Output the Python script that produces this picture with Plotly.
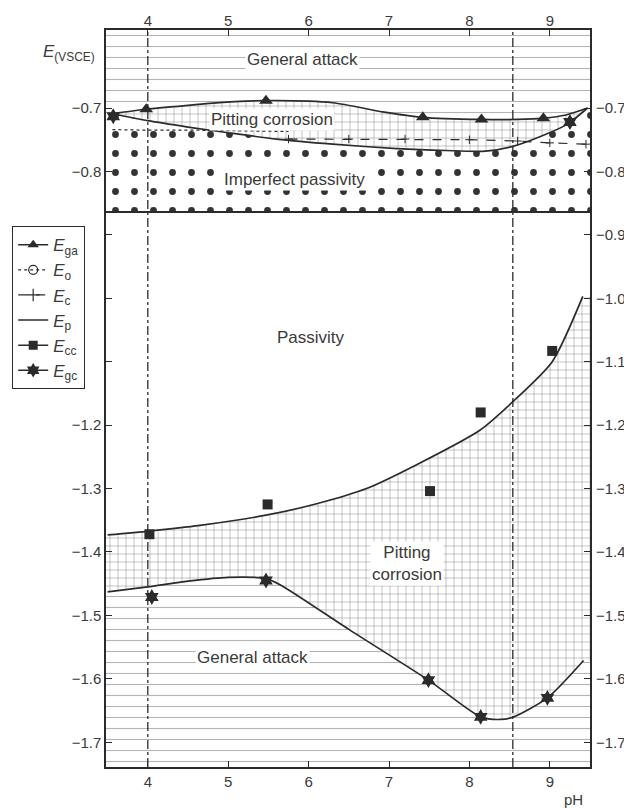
import plotly.graph_objects as go

# ---------------- data ----------------
PH_RANGE = [3.48, 9.50]
E_RANGE = [-1.739, -0.577]
SEPARATOR_E = -0.864
VLINE_PH = [4.0, 8.54]

ph_ticks = [4, 5, 6, 7, 8, 9]
e_ticks = [-0.7, -0.8, -0.9, -1.0, -1.1, -1.2, -1.3, -1.4, -1.5, -1.6, -1.7]
e_ticktext_right = ["−0.7", "−0.8", "−0.9", "−1.0", "−1.1", "−1.2", "−1.3", "−1.4", "−1.5", "−1.6", "−1.7"]
e_ticktext_left = ["−0.7", "−0.8", " ", " ", " ", "−1.2", "−1.3", "−1.4", "−1.5", "−1.6", "−1.7"]

# E_ga : general attack boundary (top panel)
ega_curve_ph = [3.56, 3.98, 4.4, 4.77, 5.47, 6.3, 6.92, 7.42, 8.15, 8.6, 8.92, 9.2, 9.47]
ega_curve_e = [-0.709, -0.702, -0.697, -0.6926, -0.6885, -0.6917, -0.706, -0.7147, -0.718, -0.718, -0.716, -0.711, -0.700]
ega_pts_ph = [3.98, 5.47, 7.42, 8.15, 8.92]
ega_pts_e = [-0.702, -0.6885, -0.7147, -0.718, -0.716]

# E_p : pitting boundary (top panel)
ep_ph = [3.56, 4.0, 4.5, 5.0, 5.6, 6.3, 7.1, 7.7, 8.2, 8.55, 8.9, 9.2, 9.47]
ep_e = [-0.709, -0.720, -0.730, -0.739, -0.749, -0.757, -0.764, -0.767, -0.768, -0.760, -0.744, -0.727, -0.700]

# E_o : dotted line
eo_ph = [3.56, 4.0, 4.6, 5.2, 5.75]
eo_e = [-0.734, -0.735, -0.735, -0.736, -0.737]

# E_c : dashed line with crosses
ec_ph = [5.75, 6.5, 7.2, 8.0, 8.6, 9.0, 9.45]
ec_e = [-0.749, -0.749, -0.749, -0.750, -0.752, -0.755, -0.757]

# E_cc : passivity / pitting boundary (bottom panel)
ecc_curve_ph = [3.50, 4.02, 4.65, 5.47, 6.1, 6.72, 7.38, 8.13, 8.54, 9.03, 9.41]
ecc_curve_e = [-1.373, -1.367, -1.358, -1.342, -1.324, -1.300, -1.260, -1.208, -1.163, -1.100, -0.997]
ecc_pts_ph = [4.02, 5.49, 7.51, 8.14, 9.03]
ecc_pts_e = [-1.372, -1.325, -1.304, -1.180, -1.083]

# E_gc : pitting / general attack boundary (bottom panel)
egc_curve_ph = [3.50, 4.0, 4.5, 5.0, 5.47, 5.65, 6.5, 7.49, 8.14, 8.39, 8.55, 8.97, 9.42]
egc_curve_e = [-1.463, -1.455, -1.446, -1.440, -1.442, -1.452, -1.522, -1.602, -1.660, -1.664, -1.660, -1.630, -1.571]
egc_pts_ph = [3.57, 9.25, 4.05, 5.47, 7.49, 8.14, 8.97]
egc_pts_e = [-0.713, -0.722, -1.471, -1.445, -1.602, -1.660, -1.630]

# region labels
region_labels = ["General attack", "Pitting corrosion", "Imperfect passivity", "Passivity",
                 "Pitting<br>corrosion", "General attack"]
region_ph = [5.92, 5.54, 5.83, 6.03, 7.22, 5.30]
region_e = [-0.624, -0.718, -0.812, -1.062, -1.418, -1.566]

# ---------------- styling ----------------
DARK = "#2b2b2b"
TXT = "#3a3a3a"
FONT = "Liberation Sans, Arial, sans-serif"
X0, X1 = PH_RANGE
Y0, Y1 = E_RANGE

dash_pat = dict(shape="-", fgcolor="#b4b4b4", bgcolor="white", size=11, solidity=0.1, fillmode="replace")
plus_pat = dict(shape="+", fgcolor="#6e6e6e", bgcolor="white", size=8, solidity=0.1, fillmode="replace")
star_pat = dict(shape=".", fgcolor="#333333", bgcolor="white", size=19, solidity=0.1, fillmode="replace")

fig = go.Figure()


def region(xs, ys, pat):
    fig.add_trace(go.Scatter(x=xs, y=ys, mode="lines", fill="toself", fillcolor="white",
                             fillpattern=pat, line=dict(width=0), hoverinfo="skip",
                             showlegend=False))


# top: general attack
region([X0] + ega_curve_ph + [X1, X1, X0],
       [ega_curve_e[0]] + ega_curve_e + [ega_curve_e[-1], Y1, Y1], dash_pat)
# top: pitting corrosion
region([X0] + ega_curve_ph + [X1, X1] + ep_ph[::-1] + [X0],
       [ega_curve_e[0]] + ega_curve_e + [ega_curve_e[-1], ep_e[-1]] + ep_e[::-1] + [ep_e[0]], plus_pat)
# top: imperfect passivity
region([X0] + ep_ph + [X1, X1, X0],
       [ep_e[0]] + ep_e + [ep_e[-1], SEPARATOR_E, SEPARATOR_E], star_pat)
# bottom: pitting corrosion
region([X0] + ecc_curve_ph + [X1, X1] + egc_curve_ph[::-1] + [X0],
       [ecc_curve_e[0]] + ecc_curve_e + [ecc_curve_e[-1], egc_curve_e[-1]] + egc_curve_e[::-1] + [egc_curve_e[0]],
       plus_pat)
# bottom: general attack
region([X0] + egc_curve_ph + [X1, X1, X0],
       [egc_curve_e[0]] + egc_curve_e + [egc_curve_e[-1], Y0, Y0], dash_pat)

line_main = dict(color=DARK, width=1.7, shape="spline", smoothing=0.7)

for xs, ys in [(ega_curve_ph, ega_curve_e), (ep_ph, ep_e),
               (ecc_curve_ph, ecc_curve_e), (egc_curve_ph, egc_curve_e)]:
    fig.add_trace(go.Scatter(x=xs, y=ys, mode="lines", line=line_main,
                             hoverinfo="skip", showlegend=False))

fig.add_trace(go.Scatter(x=eo_ph, y=eo_e, mode="lines",
                         line=dict(color=DARK, width=1.2, dash="dot"), showlegend=False))
fig.add_trace(go.Scatter(x=ec_ph, y=ec_e, mode="lines+markers",
                         line=dict(color=DARK, width=1.2, dash="dash"),
                         marker=dict(symbol="cross-thin", size=6, line=dict(color=DARK, width=1)),
                         showlegend=False))

fig.add_trace(go.Scatter(x=ega_pts_ph, y=ega_pts_e, mode="markers",
                         marker=dict(symbol="triangle-up", size=12, color=DARK), showlegend=False))
fig.add_trace(go.Scatter(x=ecc_pts_ph, y=ecc_pts_e, mode="markers",
                         marker=dict(symbol="square", size=10, color=DARK), showlegend=False))
fig.add_trace(go.Scatter(x=egc_pts_ph, y=egc_pts_e, mode="markers",
                         marker=dict(symbol="hexagram", size=12, color=DARK), showlegend=False))

# anchor trace so the top / right axes are drawn
fig.add_trace(go.Scatter(x=[None], y=[None], xaxis="x2", yaxis="y2", mode="markers",
                         showlegend=False, hoverinfo="skip"))

# legend entries
legend_items = [
    ("<i>E</i><sub>ga</sub>", dict(color=DARK, width=1.5), dict(symbol="triangle-up", size=10, color=DARK), "lines+markers"),
    ("<i>E</i><sub>o</sub>", dict(color=DARK, width=1.2, dash="dot"),
     dict(symbol="circle-open", size=9, color=DARK, line=dict(width=1.2, color=DARK)), "lines+markers"),
    ("<i>E</i><sub>c</sub>", dict(color=DARK, width=1.2, dash="dash"),
     dict(symbol="cross-thin", size=9, line=dict(width=1.2, color=DARK)), "lines+markers"),
    ("<i>E</i><sub>p</sub>", dict(color=DARK, width=1.5), None, "lines"),
    ("<i>E</i><sub>cc</sub>", dict(color=DARK, width=1.5), dict(symbol="square", size=9, color=DARK), "lines+markers"),
    ("<i>E</i><sub>gc</sub>", dict(color=DARK, width=1.5), dict(symbol="hexagram", size=11, color=DARK), "lines+markers"),
]
for name, ln, mk, mode in legend_items:
    kw = dict(x=[None], y=[None], mode=mode, name=name, line=ln, showlegend=True)
    if mk is not None:
        kw["marker"] = mk
    fig.add_trace(go.Scatter(**kw))

for xv in VLINE_PH:
    fig.add_vline(x=xv, line=dict(color=DARK, width=1.3, dash="dashdot"))
fig.add_hline(y=SEPARATOR_E, line=dict(color=DARK, width=2))

for txt, xv, yv in zip(region_labels, region_ph, region_e):
    fig.add_annotation(x=xv, y=yv, text=txt, showarrow=False, bgcolor="white",
                       borderpad=1, font=dict(family=FONT, size=17, color=TXT))

fig.add_annotation(xref="paper", yref="paper", x=-0.018, y=0.969, xanchor="right", yanchor="middle",
                   text="<i>E</i><sub>(VSCE)</sub>", showarrow=False,
                   font=dict(family=FONT, size=17, color=TXT))
fig.add_annotation(xref="paper", yref="paper", x=0.965, y=-0.044, xanchor="center", yanchor="middle",
                   text="pH", showarrow=False, font=dict(family=FONT, size=15, color=TXT))

tickfont = dict(family=FONT, size=15, color=TXT)
axis_common = dict(showgrid=False, zeroline=False, ticks="inside", ticklen=6,
                   tickcolor=DARK, tickwidth=1.2, tickfont=tickfont, automargin=False)

# page body adds an 8 px offset, so the figure is 8 px smaller than the window
fig.update_layout(
    width=624, height=800,
    margin=dict(l=98, r=42, t=22, b=41, autoexpand=False),
    paper_bgcolor="white", plot_bgcolor="white",
    font=dict(family=FONT, color=TXT),
    xaxis=dict(range=PH_RANGE, tickmode="array", tickvals=ph_ticks, showline=True, linecolor=DARK,
               linewidth=1.5, mirror=True, **axis_common),
    xaxis2=dict(range=PH_RANGE, tickmode="array", tickvals=ph_ticks, overlaying="x", side="top",
                anchor="y", showline=False, **axis_common),
    yaxis=dict(range=E_RANGE, tickmode="array", tickvals=e_ticks, ticktext=e_ticktext_left,
               showline=True, linecolor=DARK, linewidth=1.5, mirror=True, **axis_common),
    yaxis2=dict(range=E_RANGE, tickmode="array", tickvals=e_ticks, ticktext=e_ticktext_right,
                overlaying="y", side="right", anchor="x", showline=False, ticklabelstandoff=5,
                **axis_common),
    legend=dict(xref="container", yref="container", x=0.0064, y=0.7275, xanchor="left", yanchor="top",
                bgcolor="white", bordercolor=DARK, borderwidth=1.2,
                font=dict(family=FONT, size=17, color=TXT), tracegroupgap=0),
    showlegend=True,
)

fig.write_html("out.html")
